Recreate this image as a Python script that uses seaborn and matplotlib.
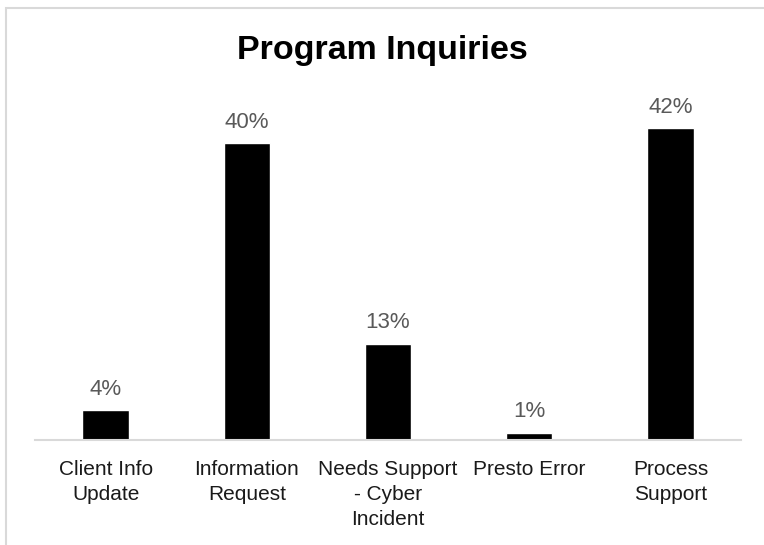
import matplotlib
matplotlib.use("Agg")
import matplotlib.pyplot as plt
import seaborn as sns
import pandas as pd
from matplotlib.patches import Rectangle

categories = ["Client Info\nUpdate", "Information\nRequest", "Needs Support\n- Cyber\nIncident",
              "Presto Error", "Process\nSupport"]
shares = [4, 40, 13, 1, 42]
title = "Program Inquiries"

df = pd.DataFrame({"category": categories, "share": shares})

sns.set_theme(style="white")
plt.rcParams["font.family"] = ["Liberation Sans", "DejaVu Sans"]

W, H = 764, 545
fig = plt.figure(figsize=(W / 100, H / 100), dpi=100)

# light frame around the chart area
fig.patches.append(Rectangle((5.5 / W, -0.1), 1.2, (H - 8.5) / H + 0.1, transform=fig.transFigure,
                             fill=False, edgecolor="#d9d9d9", linewidth=1.5, zorder=0))

left, right, bottom, top = 35, 741, 440, 106
ax = fig.add_axes([left / W, (H - bottom) / H, (right - left) / W, (bottom - top) / H])

sns.barplot(data=df, x="category", y="share", color="black", width=0.33,
            saturation=1, ax=ax)
ax.set_ylim(0, 45)
ax.set_xlim(-0.5, len(categories) - 0.5)

for i, v in enumerate(shares):
    ax.annotate(f"{v}%", (i, v), xytext=(0, 7.5), textcoords="offset points",
                ha="center", va="bottom", fontsize=16, color="#595959")

for s in ["top", "right", "left"]:
    ax.spines[s].set_visible(False)
ax.spines["bottom"].set_color("#d9d9d9")
ax.spines["bottom"].set_linewidth(1.5)
ax.set_yticks([])
ax.set_xlabel("")
ax.set_ylabel("")
ax.tick_params(axis="x", length=0, pad=14.5, labelsize=15, labelcolor="#1a1a1a")
for lbl in ax.get_xticklabels():
    lbl.set_linespacing(1.4)
    lbl.set_verticalalignment("top")

fig.text(0.5, (H - 51) / H, title, ha="center", va="center", fontsize=24.5,
         fontweight="bold", color="black")

fig.savefig("out.png", dpi=100, facecolor="white")
